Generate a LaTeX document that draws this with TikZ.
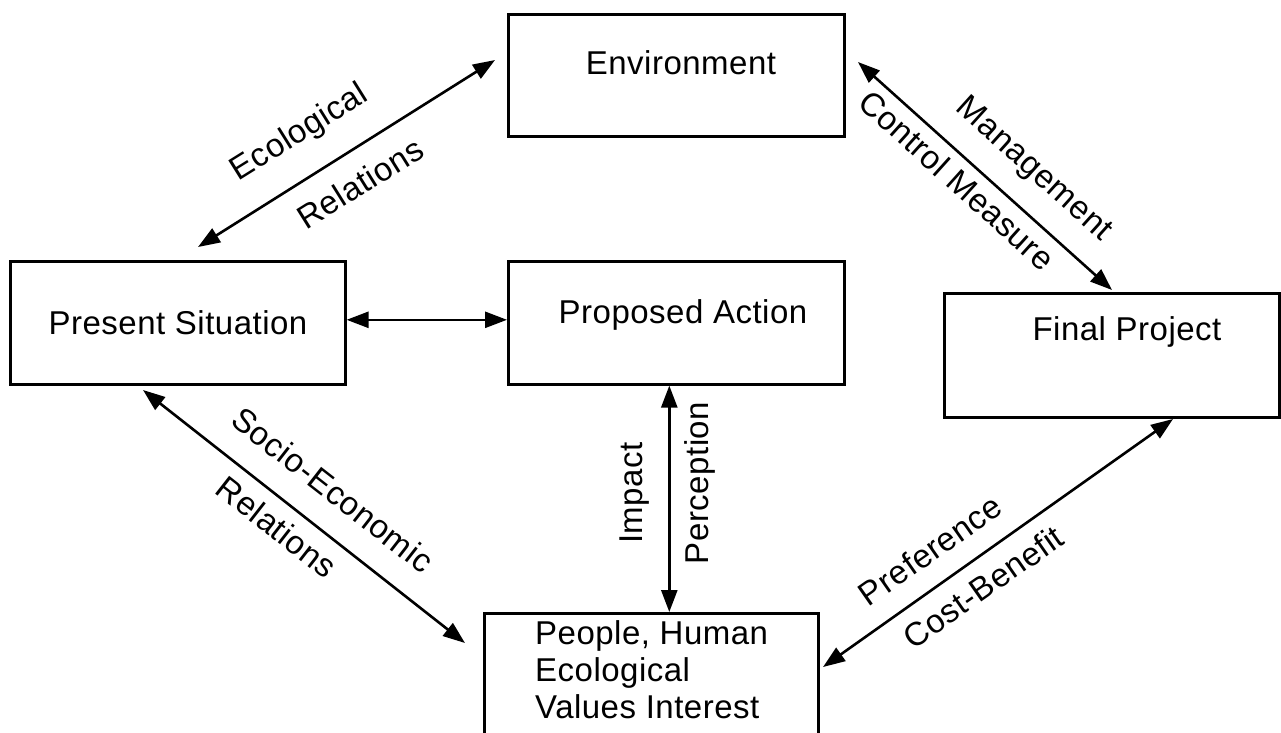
\documentclass[tikz,border=0pt]{standalone}
\usepackage{fontspec}
\setmainfont[LetterSpace=1.5]{Liberation Sans}
\usetikzlibrary{arrows.meta,calc}
\begin{document}
\begin{tikzpicture}[x=1pt,y=-1pt,
  box/.style={draw,line width=2.6pt,rectangle,inner sep=0pt,anchor=north west},
  txt/.style={inner sep=0pt,font=\fontsize{33}{37}\selectfont},
  arr/.style={line width=2.6pt,{Triangle[length=22pt,width=16pt]}-{Triangle[length=22pt,width=16pt]}}]
\useasboundingbox (0,0) rectangle (1281,732);
\clip (0,0) rectangle (1281,732);
% boxes
\node[box,minimum width=336pt,minimum height=122pt] (env) at (507,13) {};
\node[box,minimum width=335pt,minimum height=123pt] (ps)  at (9,260) {};
\node[box,minimum width=336pt,minimum height=123pt] (pa)  at (507,260) {};
\node[box,minimum width=335pt,minimum height=124pt] (fp)  at (943,292) {};
\node[box,minimum width=334pt,minimum height=150pt] (ppl) at (483,612) {};
% box texts
\node[txt] (envt) at (681,63) {Environment};
\node[txt] (pst)  at (178,323) {Present Situation};
\node[txt] (pat)  at (683,315) {Proposed Action};
\node[txt] (fpt)  at (1127,332) {Final Project};
\node[txt,align=left,anchor=west] (pplt) at (535,670) {People, Human\\Ecological\\Values Interest};
% connector end points
\coordinate (eA) at (198,247);
\coordinate (eB) at (495,60);
\coordinate (mA) at (858,62);
\coordinate (mB) at (1112,290);
\coordinate (sA) at (143,390);
\coordinate (sB) at (465,643);
\coordinate (iA) at ($(pa.south)+(-7,0)$);
\coordinate (iB) at ($(ppl.north)+(18,0)$);
\coordinate (cA) at (823,667);
\coordinate (cB) at (1173,419);
\coordinate (hA) at ($(ps.east)+(0,-3)$);
\coordinate (hB) at ($(pa.west)+(0,-3)$);
% connectors
\draw[arr] (eA) -- (eB);
\draw[arr] (mA) -- (mB);
\draw[arr] (sA) -- (sB);
\draw[arr] (iA) -- (iB);
\draw[arr] (cA) -- (cB);
\draw[arr] (hA) -- (hB);
% connector labels
\node[txt,rotate=32]  (l1) at (300,133) {Ecological};
\node[txt,rotate=32]  (l2) at (360,183) {Relations};
\node[txt,rotate=-42] (l3) at (1033,170) {Management};
\node[txt,rotate=-42] (l4) at (957,180) {Control Measure};
\node[txt,rotate=-38] (l5) at (333,490) {Socio-Economic};
\node[txt,rotate=-38] (l6) at (277,527) {Relations};
\node[txt,rotate=90]  (l7) at (635,493) {Impact};
\node[txt,rotate=90]  (l8) at (700,483) {Perception};
\node[txt,rotate=35]  (l9) at (930,550) {Preference};
\node[txt,rotate=35]  (l10) at (983,587) {Cost-Benefit};
\end{tikzpicture}
\end{document}
